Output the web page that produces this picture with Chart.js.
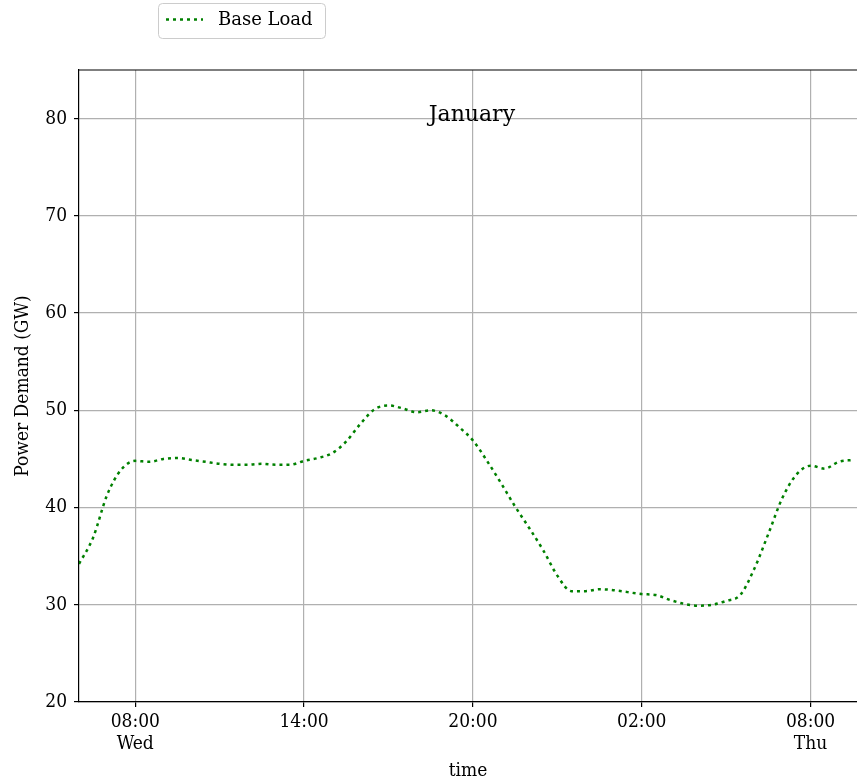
<!DOCTYPE html>
<html>
<head>
<meta charset="utf-8">
<script src="https://cdn.jsdelivr.net/npm/chart.js@4"></script>
<style>
  html, body { margin: 0; padding: 0; background: #fff; }
  #wrap { width: 857px; height: 782px; }
</style>
</head>
<body>
<div id="wrap"><canvas id="myChart"></canvas></div>
<script>
// DATA
const seriesName = "Base Load";
const chartTitle = "January";
// hours counted from 00:00 Wed (so 26 = 02:00 Thu)
const hours = [
  6.0, 6.5, 7.0, 7.5, 8.0, 8.5, 9.0, 9.5, 10.0, 10.5, 11.0, 11.5, 12.0, 12.5,
  13.0, 13.5, 14.0, 14.5, 15.0, 15.5, 16.0, 16.5, 17.0, 17.5, 18.0, 18.5, 19.0,
  19.5, 20.0, 20.5, 21.0, 21.5, 22.0, 22.5, 23.0, 23.5, 24.0, 24.5, 25.0, 25.5,
  26.0, 26.5, 27.0, 27.5, 28.0, 28.5, 29.0, 29.5, 30.0, 30.5, 31.0, 31.5, 32.0,
  32.5, 33.0, 33.5
];
const baseLoad = [
  34.2, 36.9, 41.3, 43.9, 44.8, 44.7, 45.0, 45.1, 44.9, 44.7, 44.5, 44.4, 44.4, 44.5,
  44.4, 44.4, 44.8, 45.1, 45.6, 46.8, 48.6, 50.1, 50.5, 50.2, 49.8, 50.0, 49.5,
  48.3, 46.9, 44.8, 42.5, 40.1, 37.9, 35.6, 33.0, 31.4, 31.4, 31.6, 31.5, 31.3,
  31.1, 31.0, 30.5, 30.1, 29.9, 30.0, 30.4, 31.0, 33.7, 37.3, 41.0, 43.4, 44.3,
  44.0, 44.7, 44.9
];
const tickHours = [8, 14, 20, 26, 32];
const tickLabels = ["08:00", "14:00", "20:00", "02:00", "08:00"];
const dayLabels = ["Wed", "", "", "", "Thu"];
const yTicks = [20, 30, 40, 50, 60, 70, 80];

const FONT = "'DejaVu Serif', serif";
const COND = "'DejaVu Serif Condensed', 'DejaVu Serif', serif";
const ctx = document.querySelector("#myChart");

// legend box, title inside axes, top spine
const extras = {
  id: "extras",
  afterDraw(chart) {
    const c = chart.ctx;
    const area = chart.chartArea;
    c.save();
    // top spine
    c.strokeStyle = "#000";
    c.lineWidth = 1.2;
    c.beginPath();
    c.moveTo(area.left, area.top);
    c.lineTo(area.right, area.top);
    c.stroke();
    // title
    c.fillStyle = "#000";
    c.font = "22px " + FONT;
    c.textAlign = "center";
    c.textBaseline = "middle";
    c.fillText(chartTitle, area.left + area.width * 0.505, area.top + 45);
    // legend frame
    const ds = chart.data.datasets[0];
    c.strokeStyle = "#cccccc";
    c.lineWidth = 1;
    c.fillStyle = "rgba(255,255,255,0.8)";
    c.beginPath();
    c.roundRect(158.5, 3.5, 167, 35, 4);
    c.fill();
    c.stroke();
    c.strokeStyle = ds.borderColor;
    c.lineWidth = ds.borderWidth;
    c.setLineDash(ds.borderDash);
    c.beginPath();
    c.moveTo(166, 19.5);
    c.lineTo(203, 19.5);
    c.stroke();
    c.setLineDash([]);
    c.fillStyle = "#000";
    c.font = "18px " + FONT;
    c.textAlign = "left";
    c.fillText(ds.label, 218, 20);
    c.restore();
  },
};

new Chart(ctx, {
  type: "line",
  data: {
    datasets: [
      {
        label: seriesName,
        data: hours.map((h, i) => ({ x: h, y: baseLoad[i] })),
        borderColor: "#008000",
        borderWidth: 2.5,
        borderDash: [3, 4],
        pointRadius: 0,
        fill: false,
        cubicInterpolationMode: "monotone",
      },
    ],
  },
  options: {
    responsive: true,
    maintainAspectRatio: false,
    animation: false,
    layout: { padding: { top: 70, left: 0, right: 0, bottom: 0 } },
    plugins: {
      legend: { display: false },
      tooltip: { enabled: false },
    },
    scales: {
      x: {
        type: "linear",
        min: 6,
        max: 33.65,
        afterFit: (s) => { s.height = 80; },
        afterBuildTicks: (s) => { s.ticks = tickHours.map((v) => ({ value: v })); },
        grid: { color: "#b0b0b0", lineWidth: 1.2, tickColor: "#000", tickLength: 5 },
        border: { color: "#000", width: 1.2 },
        ticks: {
          color: "#000",
          font: { family: COND, size: 19, lineHeight: 1.15 },
          padding: 4,
          maxRotation: 0,
          autoSkip: false,
          callback: (v) => {
            const i = tickHours.indexOf(v);
            if (i < 0) return "";
            return dayLabels[i] ? [tickLabels[i], dayLabels[i]] : tickLabels[i];
          },
        },
        title: {
          display: true,
          text: "time",
          color: "#000",
          font: { family: COND, size: 19 },
          padding: { top: 0, bottom: 0 },
        },
      },
      y: {
        min: 20,
        max: 85,
        afterFit: (s) => { s.width = 79; },
        afterBuildTicks: (s) => { s.ticks = yTicks.map((v) => ({ value: v })); },
        grid: { color: "#b0b0b0", lineWidth: 1.2, tickColor: "#000", tickLength: 5 },
        border: { color: "#000", width: 1.2 },
        ticks: {
          color: "#000",
          font: { family: COND, size: 19 },
          padding: 7,
        },
        title: {
          display: true,
          text: "Power Demand (GW)",
          color: "#000",
          font: { family: COND, size: 19 },
          padding: { top: 12, bottom: 0 },
        },
      },
    },
  },
  plugins: [extras],
});
</script>
</body>
</html>
